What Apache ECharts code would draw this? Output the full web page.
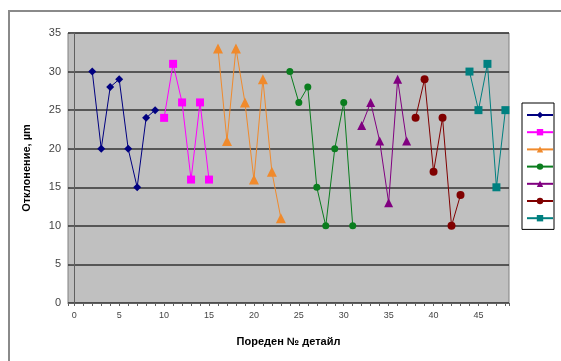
<!DOCTYPE html>
<html>
<head>
<meta charset="utf-8">
<title>Отклонение по детайли</title>
<script src="https://cdn.jsdelivr.net/npm/echarts@6/dist/echarts.min.js"></script>
<style>
  html, body { margin: 0; padding: 0; background: #fff; }
</style>
</head>
<body>
<div id="chart" style="width:561px;height:361px;"></div>
<script type="text/javascript">
  // данни: номер на детайл и отклонение (µm) за всяка серия
  var s1x = [2, 3, 4, 5, 6, 7, 8, 9];
  var s1y = [30, 20, 28, 29, 20, 15, 24, 25];
  var s2x = [10, 11, 12, 13, 14, 15];
  var s2y = [24, 31, 26, 16, 26, 16];
  var s3x = [16, 17, 18, 19, 20, 21, 22, 23];
  var s3y = [33, 21, 33, 26, 16, 29, 17, 11];
  var s4x = [24, 25, 26, 27, 28, 29, 30, 31];
  var s4y = [30, 26, 28, 15, 10, 20, 26, 10];
  var s5x = [32, 33, 34, 35, 36, 37];
  var s5y = [23, 26, 21, 13, 29, 21];
  var s6x = [38, 39, 40, 41, 42, 43];
  var s6y = [24, 29, 17, 24, 10, 14];
  var s7x = [44, 45, 46, 47, 48];
  var s7y = [30, 25, 31, 15, 25];

  var names = ['1', '2', '3', '4', '5', '6', '7'];
  var colors = ['#000080', '#ff00ff', '#f08a2c', '#0a7d1e', '#800080', '#800000', '#008080'];
  var symbols = ['diamond', 'rect', 'triangle', 'circle', 'triangle', 'circle', 'rect'];
  var sizes = [8, 8, 10, 7, 9, 8, 8];

  function pairs(xs, ys) {
    return xs.map(function (x, i) { return [x, ys[i]]; });
  }
  var all = [[s1x, s1y], [s2x, s2y], [s3x, s3y], [s4x, s4y], [s5x, s5y], [s6x, s6y], [s7x, s7y]];

  var series = all.map(function (s, i) {
    return {
      name: names[i],
      type: 'line',
      data: pairs(s[0], s[1]),
      symbol: symbols[i],
      symbolSize: sizes[i],
      showAllSymbol: true,
      lineStyle: { color: colors[i], width: 1 },
      itemStyle: { color: colors[i] },
      emphasis: { disabled: true },
      animation: false
    };
  });

  var myChart = echarts.init(document.getElementById('chart'));
  var option = {
    animation: false,
    graphic: [{
      type: 'rect',
      shape: { x: 9, y: 11, width: 560, height: 360 },
      style: { fill: 'none', stroke: '#8a8a8a', lineWidth: 2 },
      silent: true
    }],
    grid: {
      left: 68, right: 52, top: 33, bottom: 58,
      show: true,
      backgroundColor: '#c0c0c0',
      borderColor: '#808080',
      borderWidth: 1
    },
    legend: {
      orient: 'vertical',
      left: 522,
      top: 103,
      itemWidth: 26,
      itemHeight: 8,
      itemGap: 10,
      padding: [8, 0, 8, 4],
      borderColor: '#000',
      borderWidth: 1,
      backgroundColor: '#fff',
      formatter: function () { return ''; },
      data: names
    },
    xAxis: {
      type: 'value',
      min: -0.7,
      max: 48.4,
      splitNumber: 10,
      name: 'Пореден № детайл',
      nameLocation: 'middle',
      nameGap: 33,
      nameTextStyle: { fontFamily: 'Liberation Sans', fontWeight: 'bold', fontSize: 11, color: '#000' },
      axisLine: { show: true, lineStyle: { color: '#606060', width: 1 } },
      axisTick: { show: true, length: 3, lineStyle: { color: '#606060' } },
      minorTick: { show: true, splitNumber: 5, length: 3, lineStyle: { color: '#606060' } },
      splitLine: { show: false },
      axisLabel: {
        showMinLabel: false,
        showMaxLabel: false,
        margin: 8,
        fontFamily: 'Liberation Sans',
        fontSize: 9,
        color: '#444',
        formatter: function (v) { return (Math.abs(v % 5) < 1e-6) ? String(v) : ''; }
      }
    },
    yAxis: {
      type: 'value',
      min: 0,
      max: 35,
      interval: 5,
      name: 'Отклонение, µm',
      nameLocation: 'middle',
      nameGap: 36,
      nameRotate: 90,
      nameTextStyle: { fontFamily: 'Liberation Sans', fontWeight: 'bold', fontSize: 11, color: '#000' },
      axisLine: { show: true, lineStyle: { color: '#606060', width: 1 } },
      axisTick: { show: true, length: 4, lineStyle: { color: '#606060' } },
      splitLine: { show: true, lineStyle: { color: '#333', width: 1.5 } },
      axisLabel: {
        margin: 7,
        fontFamily: 'Liberation Sans',
        fontSize: 11,
        color: '#444'
      }
    },
    series: series
  };
  myChart.setOption(option);
</script>
</body>
</html>
